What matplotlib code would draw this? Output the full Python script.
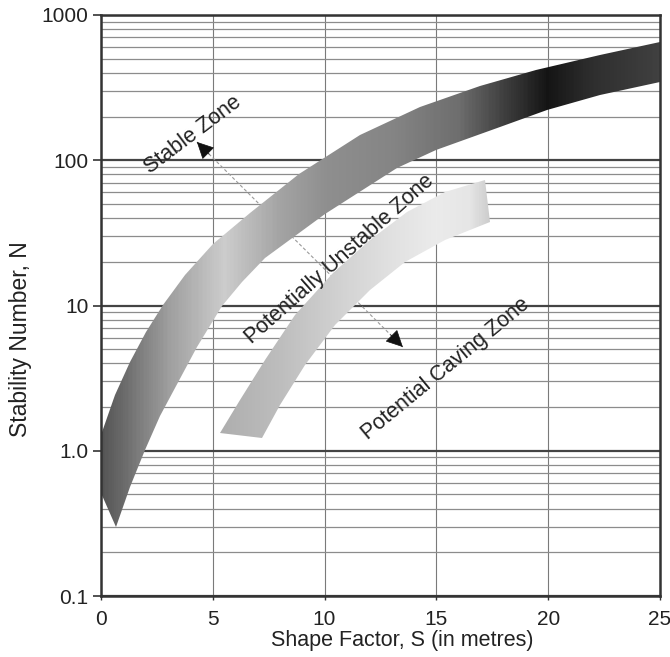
import numpy as np
import matplotlib.pyplot as plt
from matplotlib.patches import Polygon, FancyArrowPatch
from matplotlib.colors import LinearSegmentedColormap
from matplotlib.ticker import FixedLocator, FixedFormatter, LogLocator, NullFormatter

plt.rcParams['font.family'] = ['Liberation Sans', 'DejaVu Sans']

# Banda superior (limite estable / potencialmente inestable), log10(N)
b1_sup_x = [0.0, 0.63, 1.30, 2.01, 2.77, 3.76, 5.01, 6.66, 8.86, 11.58, 14.27, 16.95, 19.45, 22.32, 25.0]
b1_sup_logn = [0.108, 0.384, 0.611, 0.818, 1.003, 1.210, 1.423, 1.637, 1.905, 2.174, 2.367, 2.511, 2.621, 2.725, 2.814]
b1_inf_x = [0.0, 0.67, 1.30, 1.97, 2.64, 3.31, 4.29, 5.41, 6.31, 7.33, 10.02, 13.24, 14.98, 17.84, 19.95, 22.32, 25.0]
b1_inf_logn = [-0.291, -0.525, -0.250, 0.005, 0.239, 0.432, 0.715, 0.997, 1.162, 1.327, 1.630, 1.947, 2.071, 2.229, 2.346, 2.449, 2.539]

# Banda inferior (limite de hundimiento)
b2_sup_x = [5.32, 6.22, 7.33, 8.68, 10.38, 12.03, 13.68, 15.38, 17.17]
b2_sup_logn = [0.122, 0.349, 0.625, 0.935, 1.224, 1.451, 1.644, 1.781, 1.864]
b2_inf_x = [7.20, 8.01, 9.12, 10.47, 12.03, 13.60, 15.38, 17.40]
b2_inf_logn = [0.088, 0.315, 0.590, 0.866, 1.107, 1.300, 1.451, 1.575]

# Degradados a lo largo de cada banda (x, nivel de gris)
b1_grad_x = [0, 1, 3, 5.5, 8, 10, 13, 16, 18, 20, 22, 25]
b1_grad_gris = [0.33, 0.42, 0.62, 0.80, 0.64, 0.56, 0.52, 0.43, 0.25, 0.08, 0.18, 0.25]
b2_grad_x = [5.3, 8, 11, 13, 15, 16.5, 17.4]
b2_grad_gris = [0.68, 0.74, 0.83, 0.88, 0.92, 0.90, 0.80]

xticks = [0, 5, 10, 15, 20, 25]
yticks = [0.1, 1, 10, 100, 1000]
ytick_labels = ['0.1', '1.0', '10', '100', '1000']

fig = plt.figure(figsize=(6.7, 6.57), dpi=100)
ax = fig.add_axes([0.1507, 0.0928, 0.8343, 0.8844])
ax.set_yscale('log')
ax.set_xlim(0, 25)
ax.set_ylim(0.1, 1000)


def banda(sx, sl, ix, il, gx, gg):
    sup = list(zip(sx, 10 ** np.array(sl)))
    inf = list(zip(ix, 10 ** np.array(il)))
    poly = Polygon(sup + inf[::-1], closed=True, facecolor='none',
                   edgecolor='none', transform=ax.transData)
    ax.add_patch(poly)
    x0, x1 = min(gx), max(gx)
    pos = [(g - x0) / (x1 - x0) for g in gx]
    cmap = LinearSegmentedColormap.from_list('b', [(p, (c, c, c)) for p, c in zip(pos, gg)])
    xe = np.linspace(min(sx + ix), max(sx + ix), 400)
    xc = (xe[:-1] + xe[1:]) / 2
    mesh = ax.pcolormesh(xe, [0.1, 1000], xc[None, :], cmap=cmap,
                         vmin=x0, vmax=x1, shading='flat', zorder=3)
    mesh.set_clip_path(poly)


banda(b1_sup_x, b1_sup_logn, b1_inf_x, b1_inf_logn, b1_grad_x, b1_grad_gris)
banda(b2_sup_x, b2_sup_logn, b2_inf_x, b2_inf_logn, b2_grad_x, b2_grad_gris)

# Grilla
ax.yaxis.set_minor_locator(LogLocator(base=10, subs=np.arange(2, 10)))
ax.yaxis.set_minor_formatter(NullFormatter())
ax.grid(True, which='minor', axis='y', color='#8c8c8c', lw=0.9, zorder=1)
ax.grid(True, which='major', axis='y', color='#444444', lw=1.6, zorder=1)
ax.grid(True, which='major', axis='x', color='#7a7a7a', lw=0.8, zorder=1)
ax.set_axisbelow(True)

ax.xaxis.set_major_locator(FixedLocator(xticks))
ax.yaxis.set_major_locator(FixedLocator(yticks))
ax.yaxis.set_major_formatter(FixedFormatter(ytick_labels))
ax.tick_params(axis='y', which='major', length=6, width=1.2, color='#333333',
               labelsize=15, labelcolor='#222222', pad=3)
ax.tick_params(axis='y', which='minor', length=0)
ax.tick_params(axis='x', length=3, width=1, color='#333333',
               labelsize=15, labelcolor='#222222', pad=7)
for s in ax.spines.values():
    s.set_linewidth(1.8)
    s.set_color('#333333')
    s.set_zorder(5)

ax.set_xlabel('Shape Factor, S (in metres)', fontsize=15.5, color='#222222')
ax.set_ylabel('Stability Number, N', fontsize=16.5, color='#222222')
ax.xaxis.set_label_coords(0.539, -0.058)
ax.yaxis.set_label_coords(-0.123, 0.442)

# Textos de zonas
ax.text(4.1, 150, 'Stable Zone', rotation=37, fontsize=15.5, ha='center', va='center',
        color='#222222', zorder=6)
ax.text(10.65, 20.9, 'Potentially Unstable Zone', rotation=41.5, fontsize=15.5,
        ha='center', va='center', color='#222222', zorder=6)
ax.text(15.4, 3.66, 'Potential Caving Zone', rotation=39.5, fontsize=15.5,
        ha='center', va='center', color='#222222', zorder=6)

# Flecha entre zonas
p_a = (4.29, 133.6)
p_b = (13.5, 5.18)
ax.plot([p_a[0], p_b[0]], [p_a[1], p_b[1]], color='#9a9a9a', lw=0.8,
        ls=(0, (3, 2)), zorder=2)
for ini, fin in [(p_b, p_a), (p_a, p_b)]:
    xi = fin[0] + 0.06 * (ini[0] - fin[0])
    yi = fin[1] * (ini[1] / fin[1]) ** 0.06
    ax.add_patch(FancyArrowPatch((xi, yi), fin, arrowstyle='-|>,head_length=0.9,head_width=0.45',
                                 mutation_scale=12, color='#111111', lw=0.5,
                                 shrinkA=0, shrinkB=0, zorder=6))

fig.savefig('out.png', dpi=100)
